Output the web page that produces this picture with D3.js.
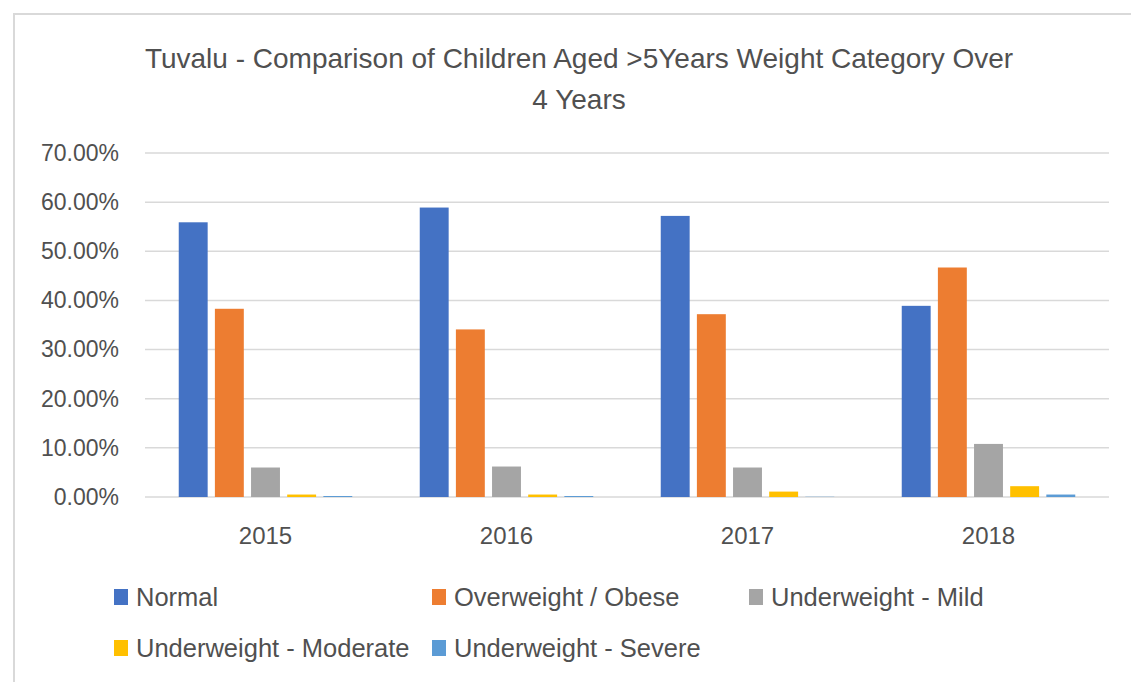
<!DOCTYPE html>
<html>
<head>
<meta charset="utf-8">
<script src="https://cdn.jsdelivr.net/npm/d3@7"></script>
<style>
  body { margin: 0; background: #fff; }
  text { font-family: "Liberation Sans", Arial, sans-serif; fill: #505050; }
</style>
</head>
<body>
<svg id="chart" width="1131" height="682"></svg>
<script>
// chart data
var years = ["2015", "2016", "2017", "2018"];
var seriesNames = ["Normal", "Overweight / Obese", "Underweight - Mild", "Underweight - Moderate", "Underweight - Severe"];
var normal     = [55.9, 58.9, 57.2, 38.9];
var overweight = [38.3, 34.1, 37.2, 46.7];
var uwMild     = [6.0, 6.2, 6.0, 10.8];
var uwModerate = [0.5, 0.5, 1.1, 2.2];
var uwSevere   = [0.2, 0.2, 0.05, 0.5];
var yTicks = [0, 10, 20, 30, 40, 50, 60, 70];
var colors = ["#4472C4", "#ED7D31", "#A5A5A5", "#FFC000", "#5B9BD5"];

var seriesValues = [normal, overweight, uwMild, uwModerate, uwSevere];

var svg = d3.select("#chart");

// frame of the chart area (runs off the picture)
svg.append("path")
  .attr("d", "M14,700 L14,14 L1140,14")
  .attr("fill", "none")
  .attr("stroke", "#d9d9d9")
  .attr("stroke-width", 2);

// title
var title = svg.append("text")
  .attr("text-anchor", "middle")
  .attr("font-size", 28);
title.append("tspan").attr("x", 579).attr("y", 68)
  .text("Tuvalu - Comparison of Children Aged >5Years Weight Category Over");
title.append("tspan").attr("x", 579).attr("y", 109)
  .text("4 Years");

var plot = { left: 145, right: 1109, top: 153, bottom: 497 };

var y = d3.scaleLinear()
  .domain([0, 70])
  .range([plot.bottom, plot.top]);

var x0 = d3.scaleBand()
  .domain(years)
  .range([plot.left, plot.right])
  .paddingInner(0.25)
  .paddingOuter(0.125);

var x1 = d3.scaleBand()
  .domain(d3.range(seriesNames.length))
  .range([0, x0.bandwidth()])
  .paddingInner(0.2)
  .paddingOuter(0.1);

// gridlines
svg.append("g")
  .selectAll("line")
  .data(yTicks)
  .enter().append("line")
  .attr("x1", plot.left)
  .attr("x2", plot.right)
  .attr("y1", function (d) { return y(d); })
  .attr("y2", function (d) { return y(d); })
  .attr("stroke", "#d9d9d9")
  .attr("stroke-width", 1.5);

// y axis labels
var yAxis = svg.append("g")
  .attr("transform", "translate(" + (plot.left - 26) + ",0)")
  .call(d3.axisLeft(y).tickValues(yTicks).tickSize(0).tickPadding(0)
    .tickFormat(function (d) { return d.toFixed(2) + "%"; }));
yAxis.select(".domain").remove();
yAxis.selectAll("text")
  .attr("font-size", 23)
  .attr("font-family", null)
  .attr("fill", null);

// bars
var groups = svg.append("g")
  .selectAll("g")
  .data(years)
  .enter().append("g")
  .attr("transform", function (d) { return "translate(" + x0(d) + ",0)"; });

groups.selectAll("rect")
  .data(function (d, i) {
    return seriesValues.map(function (vals, s) { return { s: s, v: vals[i] }; });
  })
  .enter().append("rect")
  .attr("x", function (d) { return x1(d.s); })
  .attr("width", x1.bandwidth())
  .attr("y", function (d) { return y(d.v); })
  .attr("height", function (d) { return y(0) - y(d.v); })
  .attr("fill", function (d) { return colors[d.s]; });

// x axis labels
var xAxis = svg.append("g")
  .attr("transform", "translate(0," + (plot.bottom + 30) + ")")
  .call(d3.axisBottom(x0).tickSize(0).tickPadding(0));
xAxis.select(".domain").remove();
xAxis.selectAll("text")
  .attr("font-size", 24)
  .attr("font-family", null)
  .attr("fill", null);

// legend
var legendPos = [[114, 606], [432, 606], [749, 606], [114, 657], [432, 657]];
var legend = svg.append("g")
  .selectAll("g")
  .data(seriesNames)
  .enter().append("g")
  .attr("transform", function (d, i) { return "translate(" + legendPos[i][0] + "," + legendPos[i][1] + ")"; });

legend.append("rect")
  .attr("x", 0)
  .attr("y", -17)
  .attr("width", 14)
  .attr("height", 16)
  .attr("fill", function (d, i) { return colors[i]; });

legend.append("text")
  .attr("x", 22)
  .attr("y", 0)
  .attr("font-size", 25.5)
  .text(function (d) { return d; });
</script>
</body>
</html>
